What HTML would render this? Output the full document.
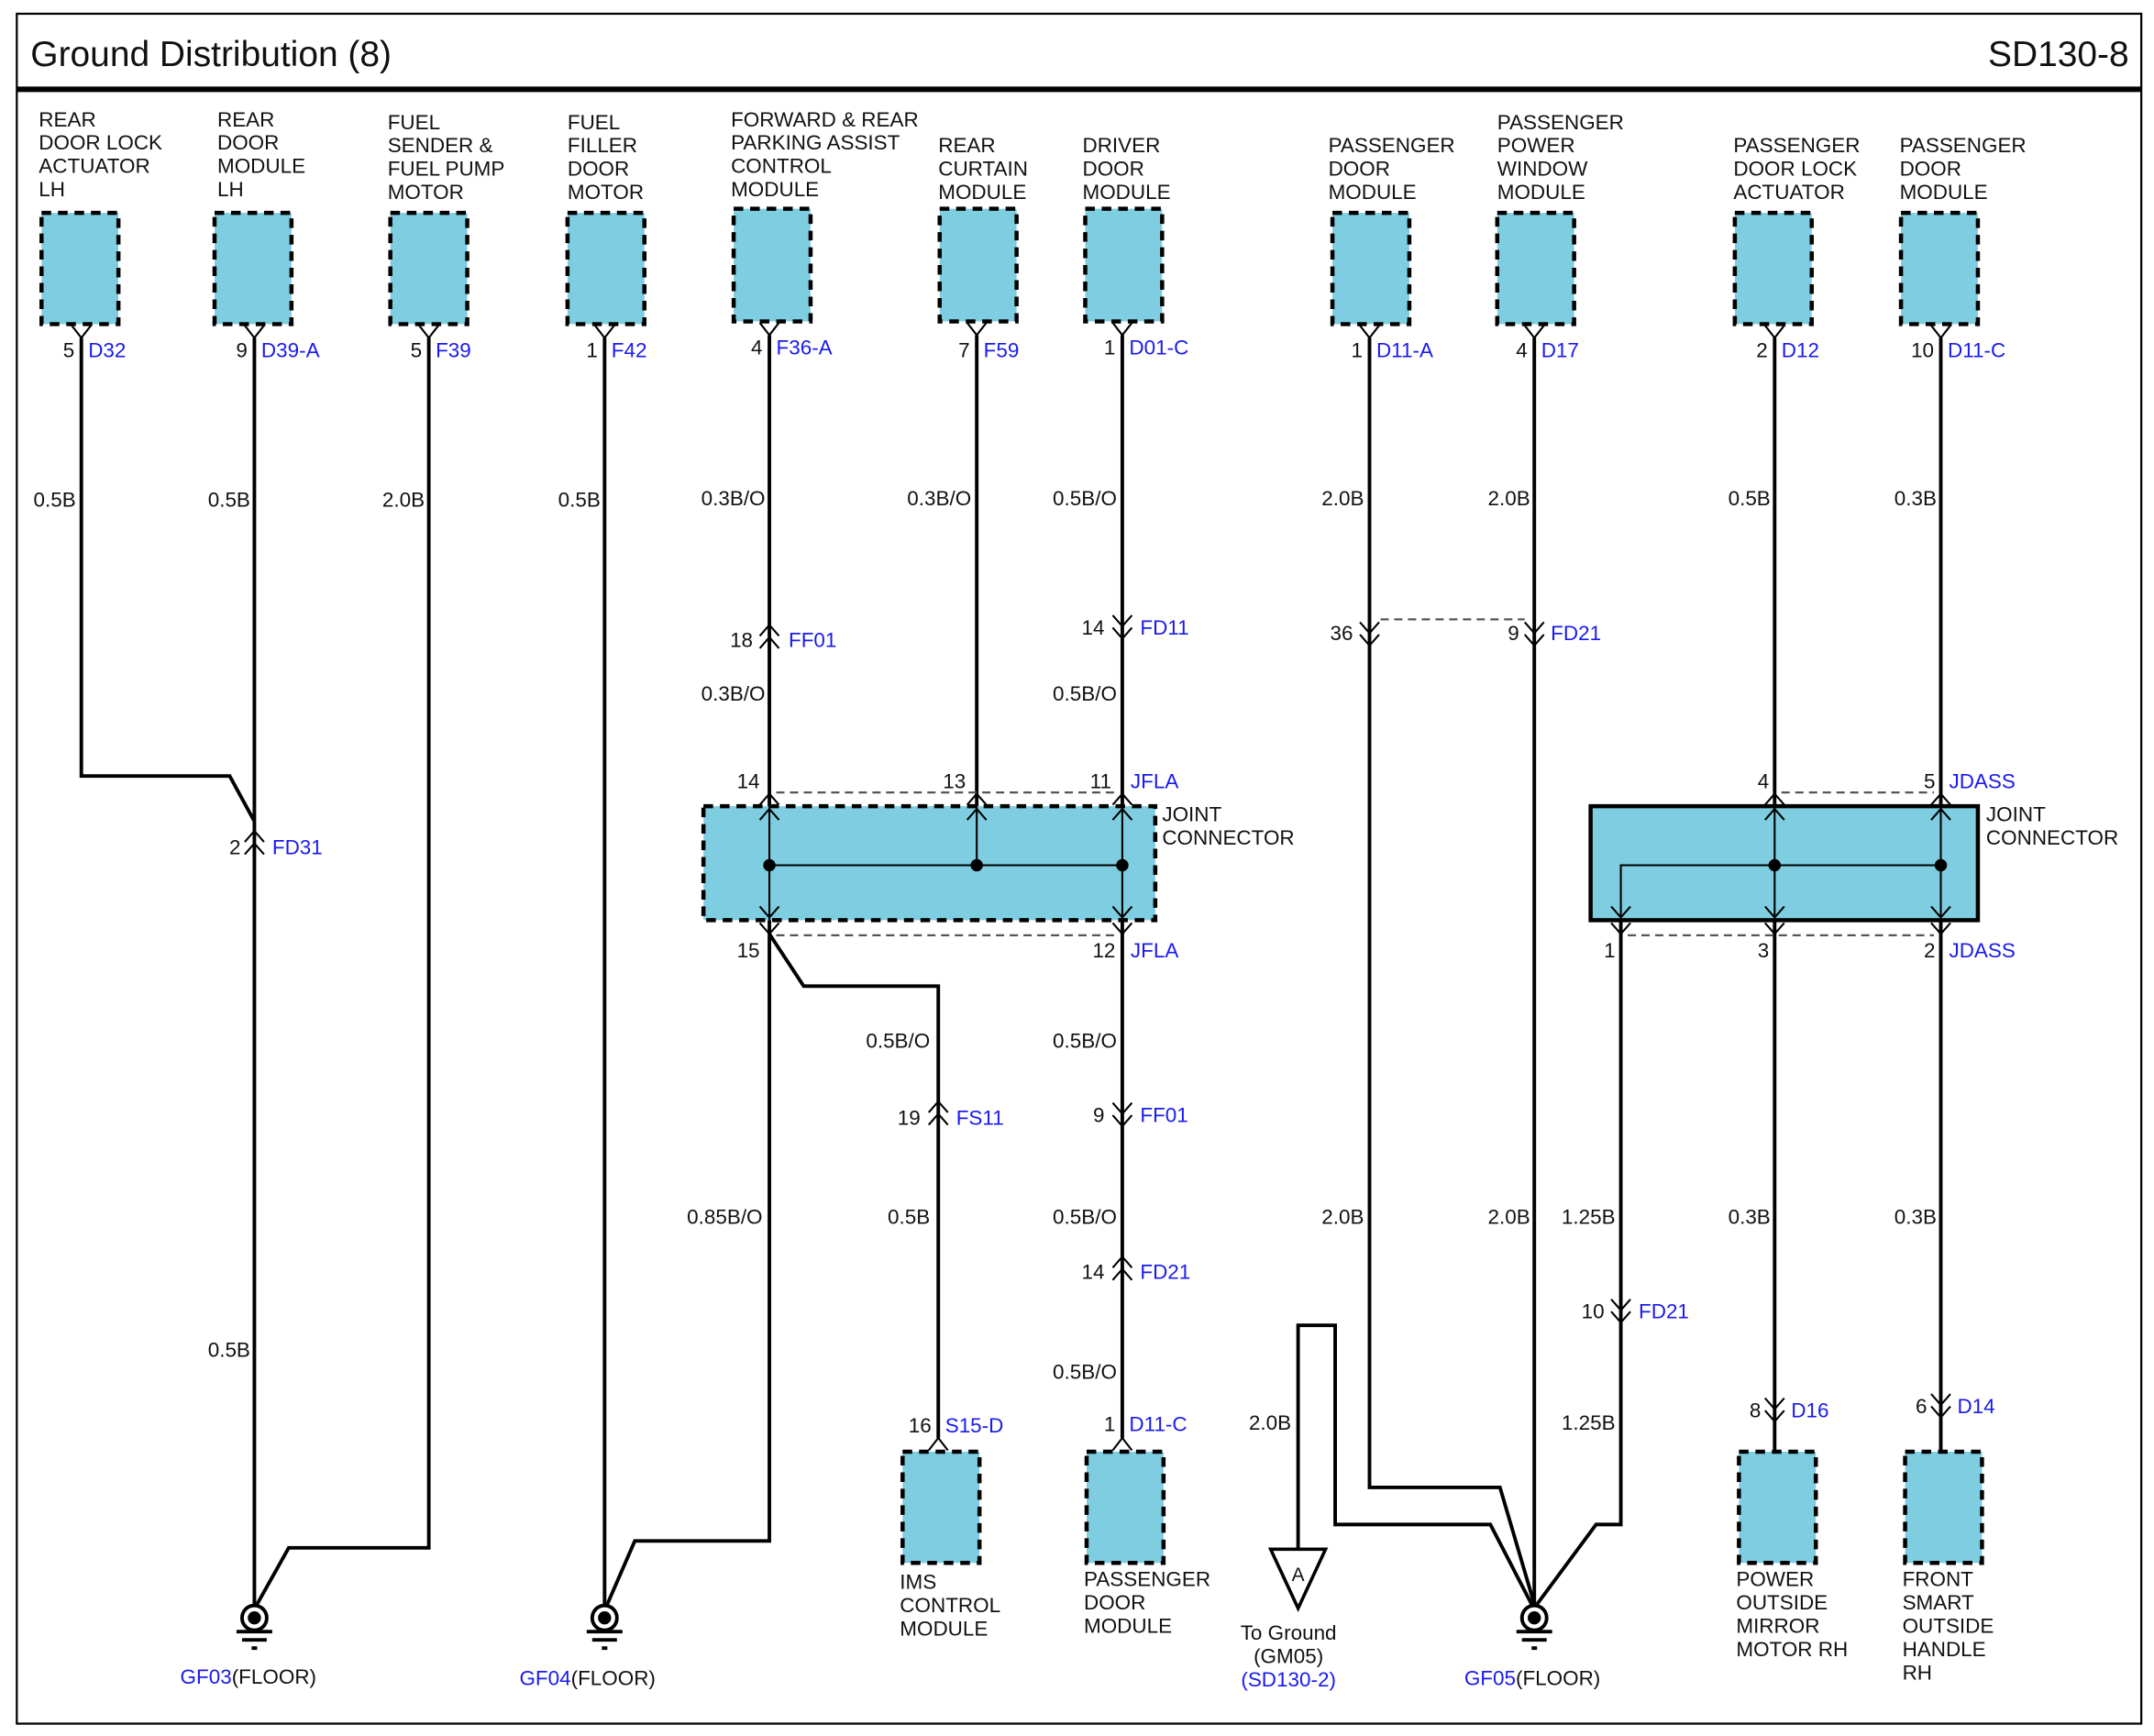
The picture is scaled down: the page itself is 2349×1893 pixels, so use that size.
<!DOCTYPE html>
<html><head><meta charset="utf-8"><style>
html,body{margin:0;padding:0;background:#fff;}
svg{display:block;}
text{font-family:"Liberation Sans Narrow","Liberation Sans",Arial,sans-serif;font-size:15px;fill:#111;}
.b{fill:#1a1aee;}
.w{fill:none;stroke:#000;stroke-width:2.6;}
.t{fill:none;stroke:#000;stroke-width:1.4;}
.box{fill:#7ecde0;stroke:#000;stroke-width:3;stroke-dasharray:7,5;}
.dl{stroke:#555;stroke-width:1.5;stroke-dasharray:6,4;fill:none;}
</style></head><body>
<svg width="2349" height="1893" viewBox="0 0 1568 1264" xmlns="http://www.w3.org/2000/svg">
<rect x="0" y="0" width="1568" height="1264" fill="#fff"/>
<rect x="12" y="10" width="1547" height="1245" fill="none" stroke="#000" stroke-width="1.5"/>
<line x1="12" y1="65" x2="1559" y2="65" stroke="#000" stroke-width="4"/>
<text x="22" y="48" style="font-size:26px;font-family:'Liberation Sans',sans-serif">Ground Distribution (8)</text>
<text x="1550" y="48" text-anchor="end" style="font-size:26px;font-family:'Liberation Sans',sans-serif">SD130-8</text>

<g>
<rect class="box" x="30" y="155" width="56" height="81"/>
<rect class="box" x="156" y="155" width="56" height="81"/>
<rect class="box" x="284" y="155" width="56" height="81"/>
<rect class="box" x="413" y="155" width="56" height="81"/>
<rect class="box" x="534" y="152" width="56" height="82"/>
<rect class="box" x="684" y="152" width="56" height="82"/>
<rect class="box" x="790" y="152" width="56" height="82"/>
<rect class="box" x="970" y="155" width="56" height="81"/>
<rect class="box" x="1090" y="155" width="56" height="81"/>
<rect class="box" x="1263" y="155" width="56" height="81"/>
<rect class="box" x="1384" y="155" width="56" height="81"/>
<rect class="box" x="657" y="1057" width="56" height="81"/>
<rect class="box" x="791" y="1057" width="56" height="81"/>
<rect class="box" x="1266" y="1057" width="56" height="81"/>
<rect class="box" x="1387" y="1057" width="56" height="81"/>
</g>

<text x="28" y="92">REAR</text><text x="28" y="109">DOOR LOCK</text><text x="28" y="126">ACTUATOR</text><text x="28" y="143">LH</text>
<text x="158" y="92">REAR</text><text x="158" y="109">DOOR</text><text x="158" y="126">MODULE</text><text x="158" y="143">LH</text>
<text x="282" y="94">FUEL</text><text x="282" y="111">SENDER &amp;</text><text x="282" y="128">FUEL PUMP</text><text x="282" y="145">MOTOR</text>
<text x="413" y="94">FUEL</text><text x="413" y="111">FILLER</text><text x="413" y="128">DOOR</text><text x="413" y="145">MOTOR</text>
<text x="532" y="92">FORWARD &amp; REAR</text><text x="532" y="109">PARKING ASSIST</text><text x="532" y="126">CONTROL</text><text x="532" y="143">MODULE</text>
<text x="683" y="111">REAR</text><text x="683" y="128">CURTAIN</text><text x="683" y="145">MODULE</text>
<text x="788" y="111">DRIVER</text><text x="788" y="128">DOOR</text><text x="788" y="145">MODULE</text>
<text x="967" y="111">PASSENGER</text><text x="967" y="128">DOOR</text><text x="967" y="145">MODULE</text>
<text x="1090" y="94">PASSENGER</text><text x="1090" y="111">POWER</text><text x="1090" y="128">WINDOW</text><text x="1090" y="145">MODULE</text>
<text x="1262" y="111">PASSENGER</text><text x="1262" y="128">DOOR LOCK</text><text x="1262" y="145">ACTUATOR</text>
<text x="1383" y="111">PASSENGER</text><text x="1383" y="128">DOOR</text><text x="1383" y="145">MODULE</text>

<text x="655" y="1157">IMS</text><text x="655" y="1174">CONTROL</text><text x="655" y="1191">MODULE</text>
<text x="789" y="1155">PASSENGER</text><text x="789" y="1172">DOOR</text><text x="789" y="1189">MODULE</text>
<text x="1264" y="1155">POWER</text><text x="1264" y="1172">OUTSIDE</text><text x="1264" y="1189">MIRROR</text><text x="1264" y="1206">MOTOR RH</text>
<text x="1385" y="1155">FRONT</text><text x="1385" y="1172">SMART</text><text x="1385" y="1189">OUTSIDE</text><text x="1385" y="1206">HANDLE</text><text x="1385" y="1223">RH</text>

<g class="t">
<path d="M52,237 L59,246 L66,237"/>
<path d="M178,237 L185,246 L192,237"/>
<path d="M305,237 L312,246 L319,237"/>
<path d="M433,237 L440,246 L447,237"/>
<path d="M553,235 L560,244 L567,235"/>
<path d="M704,235 L711,244 L718,235"/>
<path d="M810,235 L817,244 L824,235"/>
<path d="M990,237 L997,246 L1004,237"/>
<path d="M1110,237 L1117,246 L1124,237"/>
<path d="M1285,237 L1292,246 L1299,237"/>
<path d="M1406,237 L1413,246 L1420,237"/>
<path d="M676,1056 L683,1047 L690,1056"/>
<path d="M810,1056 L817,1047 L824,1056"/>
</g>
<g>
<text x="54" y="260" text-anchor="end">5</text><text class="b" x="64" y="260">D32</text>
<text x="180" y="260" text-anchor="end">9</text><text class="b" x="190" y="260">D39-A</text>
<text x="307" y="260" text-anchor="end">5</text><text class="b" x="317" y="260">F39</text>
<text x="435" y="260" text-anchor="end">1</text><text class="b" x="445" y="260">F42</text>
<text x="555" y="258" text-anchor="end">4</text><text class="b" x="565" y="258">F36-A</text>
<text x="706" y="260" text-anchor="end">7</text><text class="b" x="716" y="260">F59</text>
<text x="812" y="258" text-anchor="end">1</text><text class="b" x="822" y="258">D01-C</text>
<text x="992" y="260" text-anchor="end">1</text><text class="b" x="1002" y="260">D11-A</text>
<text x="1112" y="260" text-anchor="end">4</text><text class="b" x="1122" y="260">D17</text>
<text x="1287" y="260" text-anchor="end">2</text><text class="b" x="1297" y="260">D12</text>
<text x="1408" y="260" text-anchor="end">10</text><text class="b" x="1418" y="260">D11-C</text>
</g>

<g class="w">
<path d="M59,246 V565 H167 L185,598"/>
<path d="M185,246 V1168"/>
<path d="M312,246 V1127 H210 L187,1168"/>
<path d="M440,246 V1168"/>
<path d="M560,244 V587"/>
<path d="M711,244 V587"/>
<path d="M817,244 V587"/>
<path d="M560,670 V1122 H462 L442,1168"/>
<path d="M560,680 L585,718 H683 V1047"/>
<path d="M817,670 V1047"/>
<path d="M997,246 V1083 H1092 L1117,1168"/>
<path d="M1117,246 V1168"/>
<path d="M1292,246 V587"/>
<path d="M1413,246 V587"/>
<path d="M1180,670 V1110 H1162 L1119,1168"/>
<path d="M1292,670 V1057"/>
<path d="M1413,670 V1057"/>
<path d="M945,1128 V965 H972 V1110 H1085 L1115,1168"/>
</g>

<g class="t" stroke-width="1.8">
<path d="M178,613 L185,605 L192,613 M178,622 L185,614 L192,622"/>
<path d="M553,463 L560,455 L567,463 M553,472 L560,464 L567,472"/>
<path d="M810,448 L817,456 L824,448 M810,457 L817,465 L824,457"/>
<path d="M990,453 L997,461 L1004,453 M990,462 L997,470 L1004,462"/>
<path d="M1110,453 L1117,461 L1124,453 M1110,462 L1117,470 L1124,462"/>
<path d="M676,810 L683,802 L690,810 M676,819 L683,811 L690,819"/>
<path d="M810,803 L817,811 L824,803 M810,812 L817,820 L824,812"/>
<path d="M810,923 L817,915 L824,923 M810,932 L817,924 L824,932"/>
<path d="M1173,946 L1180,954 L1187,946 M1173,955 L1180,963 L1187,955"/>
<path d="M1285,1018 L1292,1026 L1299,1018 M1285,1027 L1292,1035 L1299,1027"/>
<path d="M1406,1015 L1413,1023 L1420,1015 M1406,1024 L1413,1032 L1420,1024"/>
</g>
<line class="dl" x1="1005" y1="451" x2="1110" y2="451"/>

<g>
<text x="175" y="622" text-anchor="end">2</text><text class="b" x="198" y="622">FD31</text>
<text x="548" y="471" text-anchor="end">18</text><text class="b" x="574" y="471">FF01</text>
<text x="804" y="462" text-anchor="end">14</text><text class="b" x="830" y="462">FD11</text>
<text x="985" y="466" text-anchor="end">36</text>
<text x="1106" y="466" text-anchor="end">9</text><text class="b" x="1129" y="466">FD21</text>
<text x="670" y="819" text-anchor="end">19</text><text class="b" x="696" y="819">FS11</text>
<text x="804" y="817" text-anchor="end">9</text><text class="b" x="830" y="817">FF01</text>
<text x="804" y="931" text-anchor="end">14</text><text class="b" x="830" y="931">FD21</text>
<text x="1168" y="960" text-anchor="end">10</text><text class="b" x="1193" y="960">FD21</text>
<text x="1282" y="1032" text-anchor="end">8</text><text class="b" x="1304" y="1032">D16</text>
<text x="1403" y="1029" text-anchor="end">6</text><text class="b" x="1425" y="1029">D14</text>
<text x="678" y="1043" text-anchor="end">16</text><text class="b" x="688" y="1043">S15-D</text>
<text x="812" y="1042" text-anchor="end">1</text><text class="b" x="822" y="1042">D11-C</text>
</g>

<g text-anchor="end">
<text x="55" y="369">0.5B</text><text x="182" y="369">0.5B</text><text x="309" y="369">2.0B</text><text x="437" y="369">0.5B</text>
<text x="557" y="368">0.3B/O</text><text x="707" y="368">0.3B/O</text><text x="813" y="368">0.5B/O</text>
<text x="993" y="368">2.0B</text><text x="1114" y="368">2.0B</text><text x="1289" y="368">0.5B</text><text x="1410" y="368">0.3B</text>
<text x="557" y="510">0.3B/O</text><text x="813" y="510">0.5B/O</text>
<text x="677" y="763">0.5B/O</text><text x="813" y="763">0.5B/O</text>
<text x="182" y="988">0.5B</text>
<text x="555" y="891">0.85B/O</text><text x="677" y="891">0.5B</text><text x="813" y="891">0.5B/O</text>
<text x="993" y="891">2.0B</text><text x="1114" y="891">2.0B</text><text x="1176" y="891">1.25B</text><text x="1289" y="891">0.3B</text><text x="1410" y="891">0.3B</text>
<text x="813" y="1004">0.5B/O</text>
<text x="940" y="1041">2.0B</text><text x="1176" y="1041">1.25B</text>
</g>

<rect class="box" x="512" y="587" width="329" height="83"/>
<line class="dl" x1="565" y1="577" x2="812" y2="577"/>
<line class="dl" x1="565" y1="681" x2="812" y2="681"/>
<g class="t">
<path d="M560,587 V670 M711,587 V630 M817,587 V670 M560,630 H817"/>
<path d="M553,586 L560,578 L567,586 M704,586 L711,578 L718,586 M810,586 L817,578 L824,586"/>
<path d="M553,597 L560,589 L567,597 M704,597 L711,589 L718,597 M810,597 L817,589 L824,597"/>
<path d="M553,660 L560,668 L567,660 M810,660 L817,668 L824,660"/>
<path d="M553,672 L560,680 L567,672 M810,672 L817,680 L824,672"/>
</g>
<circle cx="560" cy="630" r="4.5"/><circle cx="711" cy="630" r="4.5"/><circle cx="817" cy="630" r="4.5"/>
<text x="553" y="574" text-anchor="end">14</text><text x="703" y="574" text-anchor="end">13</text><text x="809" y="574" text-anchor="end">11</text><text class="b" x="823" y="574">JFLA</text>
<text x="553" y="697" text-anchor="end">15</text><text x="812" y="697" text-anchor="end">12</text><text class="b" x="823" y="697">JFLA</text>
<text x="846" y="598">JOINT</text><text x="846" y="615">CONNECTOR</text>

<rect x="1158" y="587" width="282" height="83" fill="#7ecde0" stroke="#000" stroke-width="3"/>
<line class="dl" x1="1297" y1="577" x2="1408" y2="577"/>
<line class="dl" x1="1185" y1="681" x2="1408" y2="681"/>
<g class="t">
<path d="M1292,587 V670 M1413,587 V670 M1180,670 V630 H1413"/>
<path d="M1285,586 L1292,578 L1299,586 M1406,586 L1413,578 L1420,586"/>
<path d="M1285,597 L1292,589 L1299,597 M1406,597 L1413,589 L1420,597"/>
<path d="M1173,660 L1180,668 L1187,660 M1285,660 L1292,668 L1299,660 M1406,660 L1413,668 L1420,660"/>
<path d="M1173,672 L1180,680 L1187,672 M1285,672 L1292,680 L1299,672 M1406,672 L1413,680 L1420,672"/>
</g>
<circle cx="1292" cy="630" r="4.5"/><circle cx="1413" cy="630" r="4.5"/>
<text x="1288" y="574" text-anchor="end">4</text><text x="1409" y="574" text-anchor="end">5</text><text class="b" x="1419" y="574">JDASS</text>
<text x="1176" y="697" text-anchor="end">1</text><text x="1288" y="697" text-anchor="end">3</text><text x="1409" y="697" text-anchor="end">2</text><text class="b" x="1419" y="697">JDASS</text>
<text x="1446" y="598">JOINT</text><text x="1446" y="615">CONNECTOR</text>

<g>
<g transform="translate(185,1178)"><circle r="9" fill="#fff" stroke="#000" stroke-width="2.6"/><circle r="4.8"/><line x1="-13" y1="10" x2="13" y2="10" stroke="#000" stroke-width="2.6"/><line x1="-9" y1="16" x2="9" y2="16" stroke="#000" stroke-width="2.6"/><line x1="-2" y1="22" x2="2" y2="22" stroke="#000" stroke-width="2.6"/></g>
<g transform="translate(440,1178)"><circle r="9" fill="#fff" stroke="#000" stroke-width="2.6"/><circle r="4.8"/><line x1="-13" y1="10" x2="13" y2="10" stroke="#000" stroke-width="2.6"/><line x1="-9" y1="16" x2="9" y2="16" stroke="#000" stroke-width="2.6"/><line x1="-2" y1="22" x2="2" y2="22" stroke="#000" stroke-width="2.6"/></g>
<g transform="translate(1117,1178)"><circle r="9" fill="#fff" stroke="#000" stroke-width="2.6"/><circle r="4.8"/><line x1="-13" y1="10" x2="13" y2="10" stroke="#000" stroke-width="2.6"/><line x1="-9" y1="16" x2="9" y2="16" stroke="#000" stroke-width="2.6"/><line x1="-2" y1="22" x2="2" y2="22" stroke="#000" stroke-width="2.6"/></g>
</g>
<text x="131" y="1226"><tspan class="b">GF03</tspan>(FLOOR)</text>
<text x="378" y="1227"><tspan class="b">GF04</tspan>(FLOOR)</text>
<text x="1066" y="1227"><tspan class="b">GF05</tspan>(FLOOR)</text>

<path d="M925,1128 H965 L945,1171 Z" fill="#fff" stroke="#000" stroke-width="2.4"/>
<text x="945" y="1151" text-anchor="middle" style="font-size:14px">A</text>
<text x="938" y="1194" text-anchor="middle">To Ground</text>
<text x="938" y="1211" text-anchor="middle">(GM05)</text>
<text x="938" y="1228" text-anchor="middle" class="b">(SD130-2)</text>
</svg>
</body></html>
